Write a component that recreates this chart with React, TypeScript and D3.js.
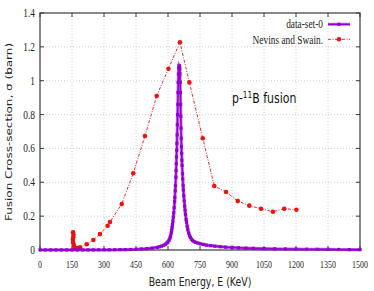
import React from 'react';
import * as d3 from 'd3';

// data-set-0 (purple resonance curve)
const purpleEnergy = [0, 25, 50, 75, 100, 125, 150, 175, 200, 225, 250, 275, 300, 325, 350, 375, 400, 425, 450, 475, 500, 525, 550, 560, 570, 580, 588, 595, 600, 605, 609, 612, 615, 617, 619, 621, 623, 625, 627, 629, 631, 632, 634, 635, 637, 638, 639, 640, 641, 642, 643, 644, 645, 646, 647, 648, 649, 650, 652, 654, 655, 656, 657, 658, 659, 660, 661, 662, 663, 664, 665, 666, 668, 669, 671, 672, 674, 676, 678, 680, 682, 685, 687, 690, 693, 697, 701, 705, 710, 715, 722, 730, 740, 750, 765, 780, 800, 820, 845, 870, 900, 930, 965, 1000, 1050, 1100, 1150, 1200, 1250, 1300, 1350, 1400, 1450, 1500];
const purpleSigma = [0.0005, 0.0005, 0.0005, 0.0005, 0.0005, 0.0005, 0.0005, 0.0005, 0.0006, 0.0006, 0.0007, 0.0008, 0.001, 0.0012, 0.0015, 0.002, 0.0025, 0.003, 0.004, 0.006, 0.008, 0.011, 0.016, 0.019, 0.023, 0.028, 0.034, 0.041, 0.048, 0.058, 0.07, 0.082, 0.1, 0.115, 0.132, 0.15, 0.17, 0.195, 0.22, 0.25, 0.285, 0.31, 0.35, 0.38, 0.43, 0.47, 0.51, 0.55, 0.59, 0.63, 0.68, 0.74, 0.8, 0.86, 0.93, 0.99, 1.04, 1.075, 1.09, 1.085, 1.07, 1.04, 0.99, 0.93, 0.86, 0.79, 0.72, 0.66, 0.61, 0.57, 0.53, 0.5, 0.45, 0.42, 0.38, 0.355, 0.32, 0.29, 0.26, 0.235, 0.21, 0.18, 0.165, 0.14, 0.12, 0.1, 0.085, 0.074, 0.064, 0.056, 0.05, 0.045, 0.041, 0.037, 0.033, 0.029, 0.026, 0.023, 0.02, 0.017, 0.015, 0.013, 0.011, 0.0095, 0.008, 0.007, 0.006, 0.005, 0.0045, 0.004, 0.0035, 0.003, 0.0025, 0.002];

// Nevins and Swain (red)
const nevinsEnergy = [155, 157, 156, 154, 155, 158, 160, 163, 170, 178, 188, 219, 250, 281, 317, 328, 383, 437, 492, 547, 602, 656, 700, 763, 817, 872, 927, 981, 1036, 1092, 1145, 1202];
const nevinsSigma = [0.105, 0.09, 0.075, 0.06, 0.045, 0.03, 0.02, 0.012, 0.01, 0.012, 0.016, 0.034, 0.059, 0.094, 0.143, 0.165, 0.272, 0.453, 0.673, 0.91, 1.071, 1.227, 0.99, 0.66, 0.378, 0.343, 0.289, 0.262, 0.244, 0.226, 0.244, 0.238];

const xTicks = [0, 150, 300, 450, 600, 750, 900, 1050, 1200, 1350, 1500];
const yTicks = [0, 0.2, 0.4, 0.6, 0.8, 1, 1.2, 1.4];
const seriesNames = ['data-set-0', 'Nevins and Swain.'];

const PURPLE = '#9400d3';
const RED = '#f01010';
const SX = 0.78;

export default function App() {
  const W = 374, H = 291;
  const L = 40, R = 360, T = 13, B = 250;
  const x = d3.scaleLinear().domain([0, 1500]).range([L, R]);
  const y = d3.scaleLinear().domain([0, 1.4]).range([B, T]);
  const line = d3.line<[number, number]>().x(d => x(d[0])).y(d => y(d[1]));
  const purple: [number, number][] = purpleEnergy.map((e, i) => [e, purpleSigma[i]]);
  const red: [number, number][] = nevinsEnergy.map((e, i) => [e, nevinsSigma[i]]);
  const serif = "'Liberation Serif', 'Times New Roman', serif";
  const sans = "'DejaVu Sans', sans-serif";
  const border = '#3a3a3a';

  return (
    <svg width={W} height={H} style={{ position: 'absolute', left: 0, top: 0, background: '#fff' }}>
      {/* grid */}
      {xTicks.slice(1, -1).map(t => (
        <line key={'gx' + t} x1={x(t)} x2={x(t)} y1={T} y2={B} stroke="#c4c4c4" strokeWidth={0.8} strokeDasharray="1,2" />
      ))}
      {yTicks.slice(1, -1).map(t => (
        <line key={'gy' + t} x1={L} x2={R} y1={y(t)} y2={y(t)} stroke="#c4c4c4" strokeWidth={0.8} strokeDasharray="1,2" />
      ))}
      {/* ticks */}
      {xTicks.map(t => (
        <g key={'tx' + t}>
          <line x1={x(t)} x2={x(t)} y1={B} y2={B - 4} stroke={border} strokeWidth={1} />
          <line x1={x(t)} x2={x(t)} y1={T} y2={T + 4} stroke={border} strokeWidth={1} />
          <text transform={`translate(${x(t)},${268}) scale(${0.72},1)`} textAnchor="middle" fontFamily={serif} fontSize={11} fill="#222">{t}</text>
        </g>
      ))}
      {yTicks.map(t => (
        <g key={'ty' + t}>
          <line x1={L} x2={L + 4} y1={y(t)} y2={y(t)} stroke={border} strokeWidth={1} />
          <line x1={R} x2={R - 4} y1={y(t)} y2={y(t)} stroke={border} strokeWidth={1} />
          <text transform={`translate(${35},${y(t) + 4}) scale(${0.78},1)`} textAnchor="end" fontFamily={serif} fontSize={12} fill="#222">{d3.format('~g')(t)}</text>
        </g>
      ))}
      {/* border */}
      <rect x={L} y={T} width={R - L} height={B - T} fill="none" stroke={border} strokeWidth={1.2} />

      {/* Nevins and Swain */}
      <path d={line(red) || ''} fill="none" stroke={RED} strokeWidth={0.9} strokeDasharray="3,1.5,1,1.5" />
      {red.map((d, i) => (
        <circle key={'r' + i} cx={x(d[0])} cy={y(d[1])} r={2.3} fill={RED} />
      ))}

      {/* data-set-0 */}
      <path d={line(purple) || ''} fill="none" stroke={PURPLE} strokeOpacity={0.55} strokeWidth={3.2} />
      <path d={line(purple) || ''} fill="none" stroke={PURPLE} strokeWidth={1.6} />
      {purple.map((d, i) => (
        <rect key={'p' + i} x={x(d[0]) - 1.6} y={y(d[1]) - 1.6} width={3.2} height={3.2} fill={PURPLE} />
      ))}

      {/* legend */}
      <text transform={`translate(${323},${28}) scale(${SX},1)`} textAnchor="end" fontFamily={serif} fontSize={12} fill="#222">{seriesNames[0]}</text>
      <line x1={328} x2={350} y1={24.3} y2={24.3} stroke={PURPLE} strokeOpacity={0.55} strokeWidth={3} />
      <line x1={328} x2={350} y1={24.3} y2={24.3} stroke={PURPLE} strokeWidth={1.5} />
      <rect x={339 - 1.6} y={24.3 - 1.6} width={3.2} height={3.2} fill={PURPLE} />
      <text transform={`translate(${323},${43.5}) scale(${SX},1)`} textAnchor="end" fontFamily={serif} fontSize={12} fill="#222">{seriesNames[1]}</text>
      <line x1={328} x2={350} y1={39.3} y2={39.3} stroke={RED} strokeWidth={0.9} strokeDasharray="3,1.5,1,1.5" />
      <circle cx={339} cy={39.3} r={2.3} fill={RED} />

      {/* annotation */}
      <text transform={`translate(${232},${103}) scale(${SX},1)`} fontFamily={sans} fontSize={14} fill="#111">
        p-<tspan fontSize={9.5} dy={-5.5}>11</tspan><tspan dy={5.5}>B fusion</tspan>
      </text>

      {/* axis titles */}
      <text transform={`translate(${200},${286}) scale(${SX},1)`} textAnchor="middle" fontFamily={sans} fontSize={12} fill="#222">Beam Energy, E (KeV)</text>
      <text transform={`translate(${11.5},${132}) scale(${SX},1) rotate(-90)`} textAnchor="middle" fontFamily={sans} fontSize={12} fill="#222">Fusion Cross-section, σ (barn)</text>
    </svg>
  );
}
